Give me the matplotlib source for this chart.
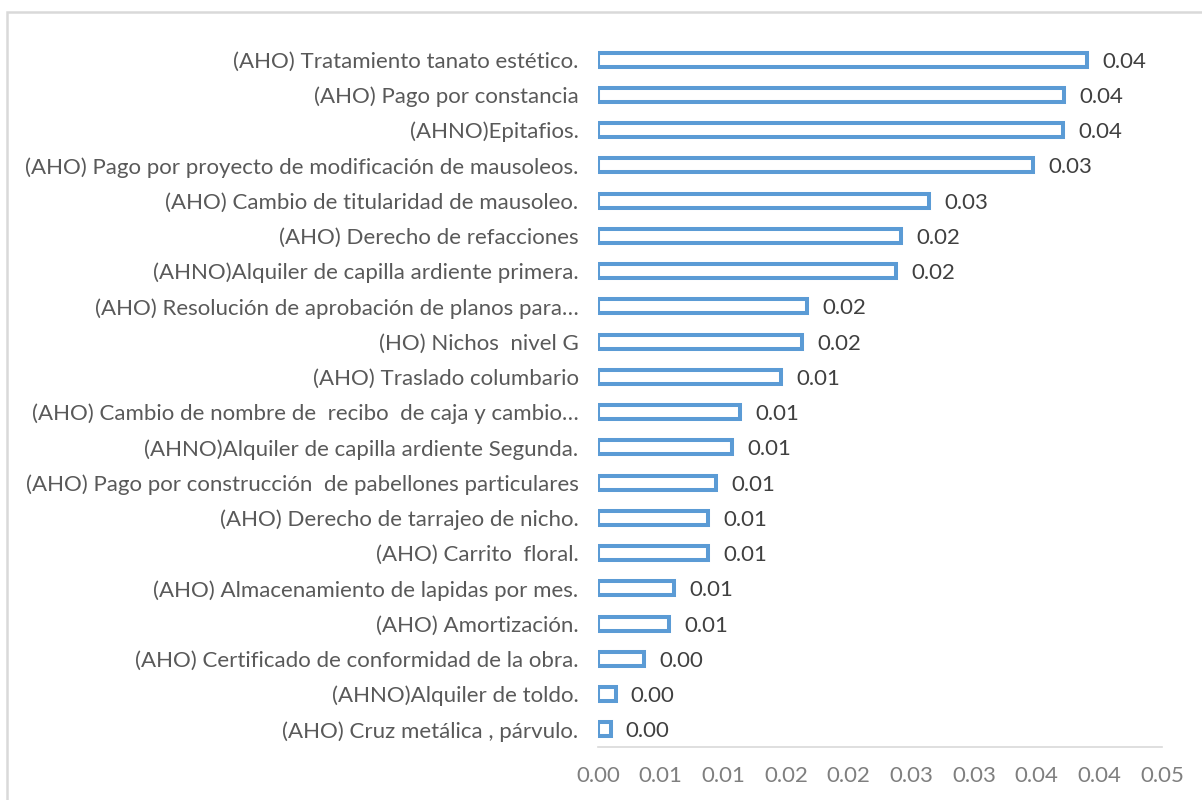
import matplotlib.pyplot as plt
import matplotlib.patches as mpatches
from matplotlib.ticker import FuncFormatter, MultipleLocator

# categories listed bottom to top, as the bars are drawn
categories = [
    "(AHO) Cruz metálica , párvulo.",
    "(AHNO)Alquiler de toldo.",
    "(AHO) Certificado de conformidad de la obra.",
    "(AHO) Amortización.",
    "(AHO) Almacenamiento de lapidas por mes.",
    "(AHO) Carrito  floral.",
    "(AHO) Derecho de tarrajeo de nicho.",
    "(AHO) Pago por construcción  de pabellones particulares",
    "(AHNO)Alquiler de capilla ardiente Segunda.",
    "(AHO) Cambio de nombre de  recibo  de caja y cambio…",
    "(AHO) Traslado columbario",
    "(HO) Nichos  nivel G",
    "(AHO) Resolución de aprobación de planos para…",
    "(AHNO)Alquiler de capilla ardiente primera.",
    "(AHO) Derecho de refacciones",
    "(AHO) Cambio de titularidad de mausoleo.",
    "(AHO) Pago por proyecto de modificación de mausoleos.",
    "(AHNO)Epitafios.",
    "(AHO) Pago por constancia",
    "(AHO) Tratamiento tanato estético.",
]
values = [
    0.0010, 0.0014, 0.0037, 0.0057, 0.0061, 0.0088, 0.0088, 0.0094, 0.0107, 0.0113,
    0.0146, 0.0163, 0.0167, 0.0238, 0.0242, 0.0264, 0.0347, 0.0371, 0.0372, 0.0390,
]

blue = "#5B9BD5"
font = "Lato"


def excel_round(v, pos=None):
    # Excel rounds half up: 0.005 -> 0.01
    return "%.2f" % (int(v * 100 + 0.5 + 1e-9) / 100)


fig = plt.figure(figsize=(12.02, 8), dpi=100)
ax = fig.add_axes([598 / 1202, 1 - 747 / 800, (1162 - 598) / 1202, (747 - 42) / 800])

y = list(range(len(categories)))
ax.barh(y, values, height=0.40, color="white", edgecolor=blue, linewidth=2.9)

for yi, v in zip(y, values):
    ax.annotate(excel_round(v), (v, yi), xytext=(11, 0), textcoords="offset points",
                va="center_baseline", ha="left", fontsize=16, color="#404040", family=font)

ax.set_xlim(0, 0.045)
ax.set_ylim(-0.5, len(categories) - 0.5)
ax.xaxis.set_major_locator(MultipleLocator(0.005))
ax.xaxis.set_major_formatter(FuncFormatter(excel_round))
ax.set_yticks(y)
ax.set_yticklabels(categories)

for s in ["top", "right", "left"]:
    ax.spines[s].set_visible(False)
ax.spines["bottom"].set_color("#D9D9D9")
ax.spines["bottom"].set_linewidth(1.2)
ax.tick_params(axis="both", length=0)
ax.tick_params(axis="y", pad=14, labelsize=16, labelcolor="#595959")
ax.tick_params(axis="x", pad=14, labelsize=16, labelcolor="#7F7F7F")
for lab in ax.get_xticklabels() + ax.get_yticklabels():
    lab.set_family(font)

# outer chart border (right and bottom fall outside the image)
fig.patches.append(mpatches.Rectangle((7 / 1202, -0.05), 1.1, 1 - 12 / 800 + 0.05,
                                      transform=fig.transFigure, fill=False,
                                      edgecolor="#D9D9D9", linewidth=1.8))

fig.savefig("out.png", dpi=100)
